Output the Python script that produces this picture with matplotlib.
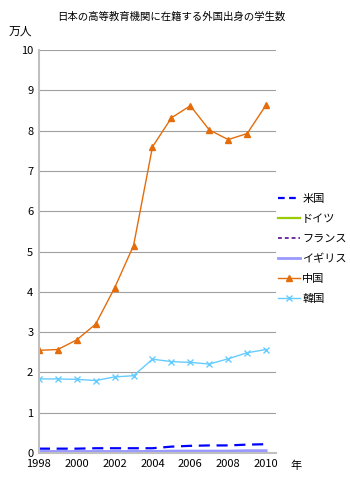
import matplotlib.pyplot as plt
from matplotlib.lines import Line2D

plt.rcParams['font.family'] = ['Noto Sans CJK JP', 'DejaVu Sans']

years = list(range(1998, 2011))
china = [2.55, 2.57, 2.81, 3.20, 4.10, 5.15, 7.60, 8.32, 8.62, 8.02, 7.78, 7.93, 8.64]
korea = [1.84, 1.84, 1.83, 1.80, 1.89, 1.92, 2.33, 2.27, 2.25, 2.21, 2.34, 2.49, 2.57]
usa = [0.11, 0.11, 0.11, 0.12, 0.12, 0.12, 0.12, 0.16, 0.18, 0.19, 0.19, 0.21, 0.22]
germany = [0.03, 0.03, 0.03, 0.03, 0.03, 0.03, 0.03, 0.03, 0.03, 0.03, 0.03, 0.03, 0.03]
france = [0.03, 0.03, 0.03, 0.03, 0.03, 0.03, 0.04, 0.04, 0.04, 0.04, 0.05, 0.05, 0.05]
uk = [0.04, 0.04, 0.04, 0.04, 0.04, 0.04, 0.04, 0.05, 0.05, 0.05, 0.05, 0.06, 0.06]
labels = ['米国', 'ドイツ', 'フランス', 'イギリス', '中国', '韓国']

fig = plt.figure(figsize=(3.5, 4.82), dpi=100)
ax = fig.add_axes([0.111, 0.060, 0.678, 0.836])

ax.plot(years, usa, color='#0000ff', lw=1.6, ls=(0, (5, 3)))
ax.plot(years, germany, color='#99cc00', lw=1.6)
ax.plot(years, france, color='#7030a0', lw=1.4, ls=(0, (4, 2)))
ax.plot(years, uk, color='#9999ff', lw=2)
ax.plot(years, china, color='#e46c0a', lw=1, marker='^', ms=4)
ax.plot(years, korea, color='#66ccff', lw=1, marker='x', ms=4, mew=1)

ax.set_xlim(1998, 2010.53)
ax.set_ylim(0, 10)
ax.set_yticks(range(0, 11))
ax.set_xticks(range(1998, 2011, 2))
ax.tick_params(length=0, labelsize=8, pad=4)
ax.grid(axis='y', color='#a0a0a0', lw=0.8)
ax.set_axisbelow(True)
for s in ['top', 'right']:
    ax.spines[s].set_visible(False)
ax.spines['left'].set_color('#c0c0c0')
ax.spines['left'].set_linewidth(1.5)
ax.spines['bottom'].set_color('#c0c0c0')
ax.spines['bottom'].set_linewidth(1.5)

fig.text(0.49, 0.965, '日本の高等教育機関に在籍する外国出身の学生数', ha='center', va='center', fontsize=7.5)
fig.text(0.025, 0.935, '万人', ha='left', va='center', fontsize=8.5)
fig.text(0.83, 0.033, '年', ha='left', va='center', fontsize=8)

handles = [
    Line2D([], [], color='#0000ff', lw=1.6, ls=(0, (3, 2))),
    Line2D([], [], color='#99cc00', lw=1.6),
    Line2D([], [], color='#7030a0', lw=1.4, ls=(0, (2, 1.5))),
    Line2D([], [], color='#9999ff', lw=2),
    Line2D([], [], color='#e46c0a', lw=1, marker='^', ms=4),
    Line2D([], [], color='#66ccff', lw=1, marker='x', ms=4),
]
fig.legend(handles, labels, loc='center left', bbox_to_anchor=(0.795, 0.483), frameon=False,
           fontsize=8, handlelength=2.0, handletextpad=0.15, labelspacing=0.9,
           borderpad=0, borderaxespad=0)

fig.savefig('out.png', dpi=100, facecolor='white')
